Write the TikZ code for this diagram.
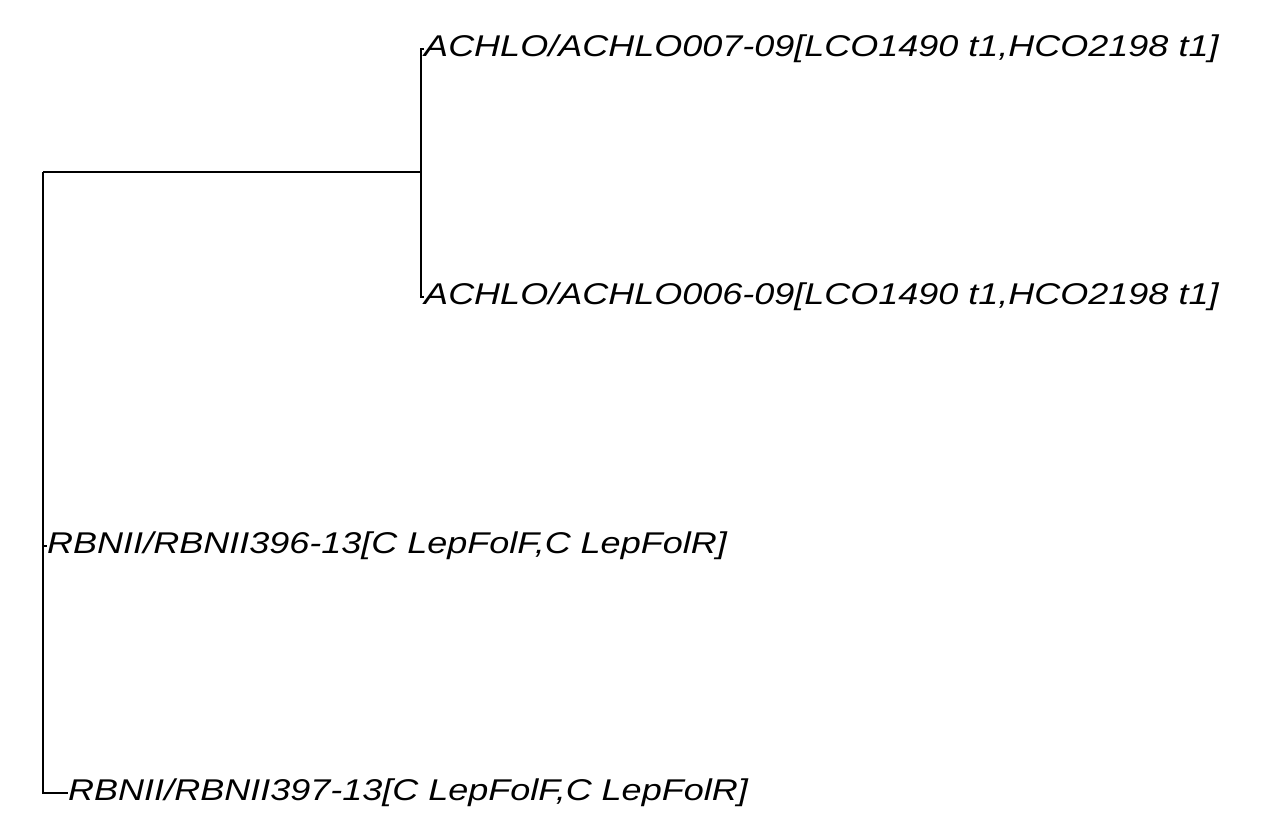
\documentclass[tikz,border=0pt]{standalone}
\usepackage{fontspec}
\setmainfont{Liberation Sans}
\usetikzlibrary{positioning}

\begin{document}
\begin{tikzpicture}[
            x=1pt, y=-1pt,
            leaf/.style={
                anchor=west,
                inner sep=0pt,
                xscale=1.2,
                font=\fontsize{30}{35}\selectfont\itshape
            },
            branch/.style={line width=1.4pt}
        ]
        \useasboundingbox (0,0) rectangle (1264,838);

        % Nodes
        \coordinate (root) at (43,172);
        \coordinate (clade) at (421,172);
        \node[leaf] (A7) at (424,49) {ACHLO/ACHLO007-09[LCO1490 t1,HCO2198 t1]};
        \node[leaf] (A6) at (424,297) {ACHLO/ACHLO006-09[LCO1490 t1,HCO2198 t1]};
        \node[leaf] (R396) at (47,546) {RBNII/RBNII396-13[C LepFolF,C LepFolR]};
        \node[leaf] (R397) at (68,793) {RBNII/RBNII397-13[C LepFolF,C LepFolR]};

        % Branches
        \draw[branch] (A7.west) -| (clade) |- (A6.west);
        \draw[branch] (clade) -- (root);
        \draw[branch] (root) |- (R396.west);
        \draw[branch] (root) |- (R397.west);

        \end{tikzpicture}
\end{document}
